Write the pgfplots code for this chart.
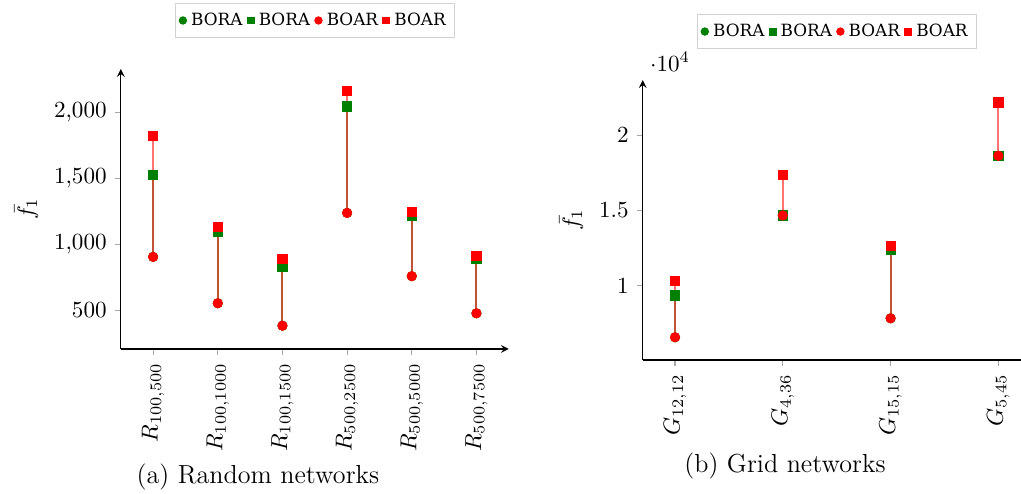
\documentclass[border=0pt]{standalone}
\usepackage{fontspec}
\usepackage{pgfplots}
\pgfplotsset{compat=1.18}
\newfontfamily\legfont{DejaVu Serif}
\definecolor{mygreen}{RGB}{0,128,0}
\definecolor{myred}{RGB}{255,0,0}
\definecolor{lgreen}{RGB}{40,150,40}
\definecolor{lred}{RGB}{240,40,40}

\pgfplotsset{
  myaxis/.style={
    scale only axis, width=168pt, height=121.2pt,
    axis lines=left,
    axis line style={black, line width=0.5pt},
    tick align=outside, major tick length=2.6pt,
    tick style={gray!70, line width=0.5pt},
    xticklabel style={rotate=90, anchor=east},
    ylabel={$\bar{f}_1$},
    legend columns=-1,
    legend style={at={(0.5,1.112)}, anchor=south, draw=gray!35,
      font=\legfont\fontsize{7.3}{8.5}\selectfont, inner sep=1.8pt,
      /tikz/every even column/.append style={column sep=0pt}},
  },
  gline/.style={forget plot, mygreen, opacity=0.55, line width=0.9pt, unbounded coords=jump, mark=none},
  rline/.style={forget plot, myred, opacity=0.55, line width=0.9pt, unbounded coords=jump, mark=none},
  gc/.style={only marks, mark=*, mark size=2pt, mygreen, mark options={draw=mygreen, fill=mygreen},
    legend image code/.code={\draw[mark=*, mark size=1.6pt, draw=lgreen, fill=lgreen] plot coordinates {(0pt,0pt)};}},
  gs/.style={only marks, mark=square*, mark size=2pt, mygreen, mark options={draw=mygreen, fill=mygreen},
    legend image code/.code={\draw[mark=square*, mark size=1.5pt, draw=lgreen, fill=lgreen] plot coordinates {(0pt,0pt)};}},
  rc/.style={only marks, mark=*, mark size=2pt, myred, mark options={draw=myred, fill=myred},
    legend image code/.code={\draw[mark=*, mark size=1.6pt, draw=lred, fill=lred] plot coordinates {(0pt,0pt)};}},
  rs/.style={only marks, mark=square*, mark size=2pt, myred, mark options={draw=myred, fill=myred},
    legend image code/.code={\draw[mark=square*, mark size=1.5pt, draw=lred, fill=lred] plot coordinates {(0pt,0pt)};}},
}

\begin{document}
\begin{tikzpicture}
\begin{axis}[myaxis, at={(52.3pt,62.8pt)}, anchor=south west,
  xmin=-0.5, xmax=5.5, ymin=207, ymax=2326,
  xtick={0,1,2,3,4,5},
  xticklabels={{$R_{100,500}$},{$R_{100,1000}$},{$R_{100,1500}$},{$R_{500,2500}$},{$R_{500,5000}$},{$R_{500,7500}$}},
  ytick={500,1000,1500,2000}]
\addplot[gline] coordinates {(0,904) (0,1527) (0,nan) (1,553) (1,1095) (1,nan) (2,383) (2,826) (2,nan) (3,1237) (3,2042) (3,nan) (4,758) (4,1217) (4,nan) (5,477) (5,886)};
\addplot[rline] coordinates {(0,904) (0,1820) (0,nan) (1,553) (1,1133) (1,nan) (2,383) (2,886) (2,nan) (3,1237) (3,2161) (3,nan) (4,758) (4,1245) (4,nan) (5,477) (5,911)};
\addplot[gc] coordinates {(0,904) (1,553) (2,383) (3,1237) (4,758) (5,477)};
\addplot[gs] coordinates {(0,1527) (1,1095) (2,826) (3,2042) (4,1217) (5,886)};
\addplot[rc] coordinates {(0,904) (1,553) (2,383) (3,1237) (4,758) (5,477)};
\addplot[rs] coordinates {(0,1820) (1,1133) (2,886) (3,2161) (4,1245) (5,911)};
\legend{BORA,BORA,BOAR,BOAR}
\end{axis}

\begin{axis}[myaxis, at={(278.3pt,58.0pt)}, anchor=south west,
  xmin=-0.3, xmax=3.3, ymin=5070, ymax=23650,
  xtick={0,1,2,3},
  xticklabels={{$G_{12,12}$},{$G_{4,36}$},{$G_{15,15}$},{$G_{5,45}$}},
  ytick={10000,15000,20000}]
\addplot[gline] coordinates {(0,6580) (0,9360) (0,nan) (1,14670) (1,14670) (1,nan) (2,7840) (2,12370) (2,nan) (3,18630) (3,18630)};
\addplot[rline] coordinates {(0,6580) (0,10330) (0,nan) (1,14670) (1,17330) (1,nan) (2,7840) (2,12630) (2,nan) (3,18630) (3,22170)};
\addplot[gc] coordinates {(0,6580) (1,14670) (2,7840) (3,18630)};
\addplot[gs] coordinates {(0,9360) (1,14670) (2,12370) (3,18630)};
\addplot[rc] coordinates {(0,6580) (1,14670) (2,7840) (3,18630)};
\addplot[rs] coordinates {(0,10330) (1,17330) (2,12630) (3,22170)};
\legend{BORA,BORA,BOAR,BOAR}
\end{axis}

\node[inner sep=0pt, font=\fontsize{11.3}{13}\selectfont] at (111.7pt,7.4pt) {(a) Random networks};
\node[inner sep=0pt, font=\fontsize{11.3}{13}\selectfont] at (339.9pt,12.1pt) {(b) Grid networks};

\pgfresetboundingbox
\useasboundingbox (0,0) rectangle (442.1pt,213.9pt);
\end{tikzpicture}
\end{document}
